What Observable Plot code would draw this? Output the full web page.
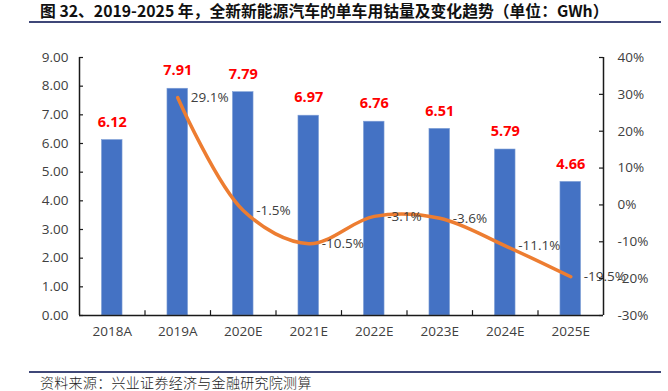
<!DOCTYPE html>
<html>
<head>
<meta charset="utf-8">
<script src="https://cdn.jsdelivr.net/npm/d3@7"></script>
<script src="https://cdn.jsdelivr.net/npm/@observablehq/plot@0.6"></script>
<style>
  html, body { margin: 0; padding: 0; background: #fff; }
  #wrap { position: relative; width: 668px; height: 391px; overflow: hidden; font-family: "Noto Sans CJK SC", "Open Sans", sans-serif; }
  #title { position: absolute; left: 40px; top: 2px; font-size: 15.8px; font-weight: bold; color: #111; white-space: nowrap; line-height: 18px; font-family: "Noto Sans CJK SC", sans-serif; }
  #tline { position: absolute; left: 29px; top: 21px; width: 632px; height: 0; border-top: 2px solid #3f4778; }
  #legend { position: absolute; top: 36px; left: 0; width: 668px; height: 20px; font-size: 13px; color: #404040; }
  .lg { position: absolute; top: 0; line-height: 20px; white-space: nowrap; }
  #chart { position: absolute; left: 0; top: 40px; }
  #fline { position: absolute; left: 29px; top: 371px; width: 632px; height: 0; border-top: 2px solid #3f4778; }
  #foot { position: absolute; left: 40px; top: 373px; font-size: 14px; color: #222; line-height: 18px; white-space: nowrap; font-weight: 300; letter-spacing: 0.3px; }
</style>
</head>
<body>
<div id="wrap">
  <div id="title">图 32、2019-2025 年，全新新能源汽车的单车用钴量及变化趋势（单位：GWh）</div>
  <div id="tline"></div>
  <div id="legend">
    <div class="lg" style="left:213px;"><span style="display:inline-block;width:30px;height:6px;background:#4472C4;vertical-align:middle;margin-right:5px;position:relative;top:-1px;"></span>单车用钴量(kg)</div>
    <div class="lg" style="left:357px;"><span style="display:inline-block;width:35px;height:3px;background:#ED7D31;vertical-align:middle;margin-right:1px;position:relative;top:-1px;"></span>同比（%，右）</div>
  </div>
  <div id="chart"></div>
  <div id="fline"></div>
  <div id="foot">资料来源：兴业证券经济与金融研究院测算</div>
</div>
<script>
const categories = ["2018A","2019A","2020E","2021E","2022E","2023E","2024E","2025E"];
const cobaltPerVehicle = [6.12, 7.91, 7.79, 6.97, 6.76, 6.51, 5.79, 4.66];
const yoyCategories = ["2019A","2020E","2021E","2022E","2023E","2024E","2025E"];
const yoyPercent = [29.1, -1.5, -10.5, -3.1, -3.6, -11.1, -19.5];
const leftTicks = [0, 1, 2, 3, 4, 5, 6, 7, 8, 9];
const rightTicks = [-30, -20, -10, 0, 10, 20, 30, 40];

const leftMax = 9, rightMin = -30, rightMax = 40;
const toLeft = p => (p - rightMin) * leftMax / (rightMax - rightMin);
const fromLeft = v => v * (rightMax - rightMin) / leftMax + rightMin;

const bars = categories.map((c, i) => ({i, c, v: cobaltPerVehicle[i]}));
const yoy = yoyCategories.map((c, k) => ({i: categories.indexOf(c), c, p: yoyPercent[k]}));
const idx = categories.map((c, i) => i);
const bounds = idx.slice(0, -1).map(i => i + 0.5);
const half = 0.157;
const axisColor = "#1a1a1a";
const labelColor = "#404040";

const chart = Plot.plot({
  width: 668,
  height: 310,
  marginLeft: 79,
  marginRight: 65,
  marginTop: 17,
  marginBottom: 35,
  style: { fontFamily: "'Open Sans', 'Noto Sans CJK SC', sans-serif", fontSize: "13px", color: labelColor, background: "#fff" },
  x: { type: "linear", domain: [-0.5, categories.length - 0.5], axis: null },
  y: { domain: [0, leftMax], axis: null },
  marks: [
    Plot.rectY(bars, { x1: d => d.i - half, x2: d => d.i + half, y: "v", fill: "#4472C4", stroke: "#7f9fd6", strokeWidth: 0.6 }),
    Plot.line(yoy, { x: "i", y: d => toLeft(d.p), stroke: "#ED7D31", strokeWidth: 3.5, curve: "catmull-rom", strokeLinecap: "round" }),
    Plot.text(bars, { x: "i", y: "v", text: d => d.v.toFixed(2), dy: -18, fill: "#FF0000", fontWeight: "bold", fontSize: 14.5 }),
    Plot.text(yoy, { x: "i", y: d => toLeft(d.p), text: d => d.p.toFixed(1) + "%", textAnchor: "start", dx: 13, fill: labelColor, fontSize: 13.5 }),
    Plot.ruleY([0], { stroke: axisColor, strokeWidth: 1.5 }),
    Plot.ruleX([-0.5, categories.length - 0.5], { y1: 0, y2: leftMax, stroke: axisColor, strokeWidth: 1.5 }),
    Plot.ruleY(leftTicks, { x1: -0.5, x2: -0.5 + 4 / 65.5, stroke: axisColor, strokeWidth: 1.2 }),
    Plot.ruleY(rightTicks.map(toLeft), { x1: categories.length - 0.5 - 4 / 65.5, x2: categories.length - 0.5, stroke: axisColor, strokeWidth: 1.2 }),
    Plot.ruleX(bounds, { y1: 0, y2: 0.17, stroke: axisColor, strokeWidth: 1.2 }),
    Plot.axisY(leftTicks, { anchor: "left", label: null, tickSize: 0, tickPadding: 11, tickFormat: d => d.toFixed(2), fill: labelColor, fontSize: 13.5 }),
    Plot.axisY(rightTicks.map(toLeft), { anchor: "right", label: null, tickSize: 0, tickPadding: 14, tickFormat: d => Math.round(fromLeft(d)) + "%", fill: labelColor, fontSize: 13.5 }),
    Plot.axisX(idx, { anchor: "bottom", label: null, tickSize: 0, tickPadding: 11, tickFormat: i => categories[i], fill: labelColor, fontSize: 13.5 })
  ]
});
document.getElementById("chart").appendChild(chart);
</script>
</body>
</html>
